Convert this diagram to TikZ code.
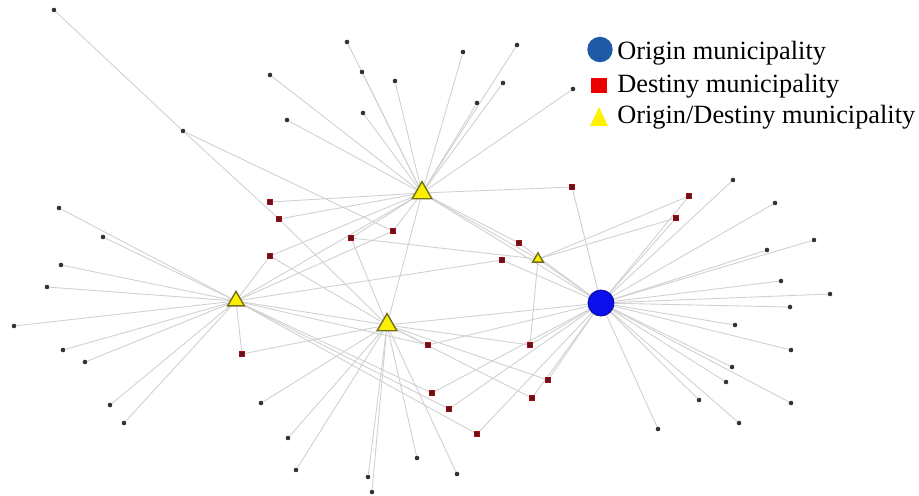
\documentclass[tikz,border=0pt]{standalone}
\usepackage{fontspec}
\setmainfont{Liberation Serif}
\usetikzlibrary{shapes.geometric,backgrounds}

\definecolor{edgegray}{RGB}{208,208,208}
\definecolor{destred}{RGB}{100,18,28}
\definecolor{hubyellow}{RGB}{250,240,0}
\definecolor{hubline}{RGB}{115,110,30}
\definecolor{origblue}{RGB}{10,15,235}
\definecolor{legblue}{RGB}{30,90,165}
\definecolor{legred}{RGB}{235,0,0}

\tikzset{
  leaf/.style={circle, fill=black!80, inner sep=0pt, minimum size=2.6pt},
  dest/.style={rectangle, fill=destred, draw=red!40!destred, line width=0.3pt, inner sep=0pt, minimum size=3pt},
  hub/.style={regular polygon, regular polygon sides=3, fill=hubyellow, draw=hubline, line width=0.8pt, inner sep=0pt, minimum size=#1},
  origin/.style={circle, fill=origblue, draw=origblue!70!black, line width=0.5pt, inner sep=0pt, minimum size=14.8pt},
  edge/.style={draw=edgegray, line width=0.5pt},
  legtext/.style={anchor=base west, inner sep=0pt, font=\fontsize{15}{18}\selectfont}
}

\begin{document}
\begin{tikzpicture}[x=0.02cm, y=-0.02cm]
    \useasboundingbox (0,0) rectangle (919,495);

    % Hubs
    \node[hub=13pt] (top) at (422,193) {};
    \node[hub=11pt] (left) at (236,301) {};
    \node[hub=13pt] (mid) at (387,325) {};
    \node[hub=7pt] (small) at (538,259) {};
    \node[origin] (orig) at (601,303) {};

    % Leaves
    \foreach \n/\x/\y in {tl1/347/42, tl2/362/72, tl3/395/81, tl4/270/75, tl5/363/113, tl6/287/120,
        tl7/463/52, tl8/517/45, tl9/503/83, tl10/477/103, tl11/573/89, fl1/54/10, fl2/183/131,
        ll1/59/208, ll2/103/237, ll3/61/265, ll4/47/287, ll5/14/326, ll6/63/350, ll7/85/362,
        ll8/110/405, ll9/124/423,
        ml1/261/403, ml2/288/438, ml3/296/470, ml4/368/477, ml5/372/492, ml6/417/458, ml7/457/474,
        ol1/733/180, ol2/775/203, ol3/814/240, ol4/767/250, ol5/781/281, ol6/830/294, ol7/790/307,
        ol8/735/325, ol9/791/350, ol10/732/367, ol11/726/382, ol12/791/403, ol13/699/400,
        ol14/739/423, ol15/658/429}
        \node[leaf] (\n) at (\x,\y) {};

    % Destinations
    \foreach \n/\x/\y in {d1/270/202, d2/279/219, d3/393/231, d4/351/238, d5/270/256, d6/242/354,
        d7/428/345, d8/519/243, d9/502/260, d10/572/187, d11/689/196, d12/676/218, d13/530/345,
        d14/548/380, d15/432/393, d16/449/409, d17/532/398, d18/477/434}
        \node[dest] (\n) at (\x,\y) {};

    % Links
    \begin{scope}[on background layer]
        \foreach \i in {1,...,11} \draw[edge] (top) -- (tl\i);
        \foreach \i in {1,...,9} \draw[edge] (left) -- (ll\i);
        \foreach \i in {1,...,7} \draw[edge] (mid) -- (ml\i);
        \foreach \i in {1,...,15} \draw[edge] (orig) -- (ol\i);
        \foreach \a/\b in {fl1/fl2, fl2/d2, fl2/d3,
            top/left, top/mid, top/orig, top/small, left/mid, mid/orig, small/orig,
            d1/top, d2/top, d2/mid, d3/top, d3/left, d4/top, d4/mid, d4/small,
            d5/top, d5/left, d5/mid, d6/left, d6/mid, d7/left, d7/mid, d7/orig,
            d8/top, d8/orig, d9/left, d9/orig, d10/top, d10/orig, d11/small, d11/orig,
            d12/small, d12/orig, d13/small, d13/mid, d13/orig, d14/mid, d14/orig,
            d15/left, d15/orig, d16/left, d16/orig, d17/mid, d17/orig, d18/left, d18/orig}
            \draw[edge] (\a) -- (\b);
    \end{scope}

    % Legend
    \node[circle, fill=legblue, inner sep=0pt, minimum size=14.5pt] (legO) at (600,49.5) {};
    \node[legtext] (legOtext) at (617,59) {Origin municipality};
    \node[rectangle, fill=legred, inner sep=0pt, minimum width=9.6pt, minimum height=8.6pt] (legD) at (599,85.5) {};
    \node[legtext] (legDtext) at (617,92) {Destiny municipality};
    \fill[yellow] (590,126) -- (599,107) -- (608,126) -- cycle;
    \node[legtext] (legTtext) at (617,123) {Origin/Destiny municipality};
\end{tikzpicture}
\end{document}
